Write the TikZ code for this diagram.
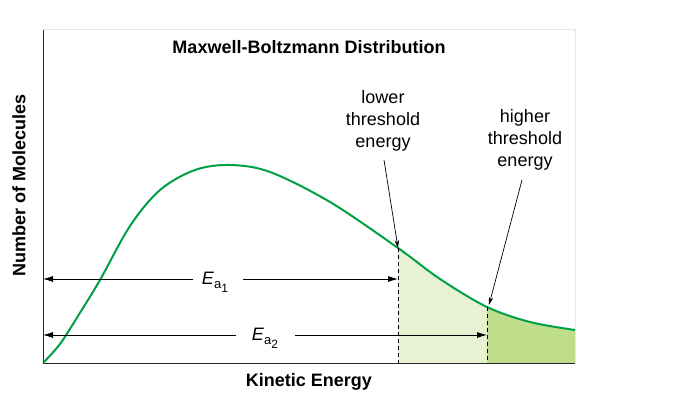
\documentclass[tikz,border=0pt]{standalone}
\usepackage{fontspec}
\setmainfont{Liberation Sans}
\usetikzlibrary{arrows.meta}
\definecolor{curvegreen}{RGB}{0,160,70}
\definecolor{lightfill}{RGB}{232,241,210}
\definecolor{darkfill}{RGB}{190,222,140}
\definecolor{framecol}{RGB}{225,230,245}
\tikzset{
 lbl/.style={font=\fontsize{18}{22}\selectfont, align=center},
 bold/.style={font=\fontsize{18}{20}\selectfont\bfseries},
 dimarrow/.style={-{Latex[length=10pt,width=6pt]}, line width=0.8pt},
 pointer/.style={-{Stealth[length=8pt,width=4.5pt]}, line width=0.7pt},
}
\newcommand{\Ea}[1]{\textit{E}\raisebox{-0.45ex}{\fontsize{13}{13}\selectfont a\raisebox{-0.5ex}{\fontsize{12}{12}\selectfont #1}}}
\begin{document}
\begin{tikzpicture}[x=1pt,y=-1pt]
\useasboundingbox (0,0) rectangle (678,420);
\def\curve{plot[smooth,tension=0.55] coordinates {(43,363) (60,344) (78,316) (100,280) (130,226) (160,190) (195,170) (230,165) (270,172) (330,202) (398,248) (440,279) (487,307) (530,322) (575,330)}}
\begin{scope}
\clip (398,0) rectangle (487,363);
\fill[lightfill] \curve -- (575,363) -- (43,363) -- cycle;
\end{scope}
\begin{scope}
\clip (487,0) rectangle (575,363);
\fill[darkfill] \curve -- (575,363) -- (43,363) -- cycle;
\end{scope}
\draw[framecol, line width=1pt] (43,30) -- (575,30) -- (575,363);
\draw[black!85, line width=1pt] (43,30) -- (43,363) -- (575,363);
\draw[curvegreen, line width=2pt] \curve;
\coordinate (c1) at (398,248);
\coordinate (c2) at (487,307);
\coordinate (b1) at (398,363);
\coordinate (b2) at (487,363);
\draw[dash pattern=on 4pt off 3pt, line width=0.8pt] (c1) -- (b1);
\draw[dash pattern=on 4pt off 3pt, line width=0.8pt] (c2) -- (b2);
\node[lbl] (e1) at (215,282) {\Ea{1}};
\node[lbl] (e2) at (265,338) {\Ea{2}};
\coordinate (l1) at (43,279); \coordinate (r1) at (398,279);
\coordinate (l2) at (43,335); \coordinate (r2) at (487,335);
\draw[dimarrow] (193,279) -- (l1);
\draw[dimarrow] (243,279) -- (r1);
\draw[dimarrow] (236,335) -- (l2);
\draw[dimarrow] (295,335) -- (r2);
\node[bold] (title) at (309,47) {Maxwell-Boltzmann Distribution};
\node[bold] (xl) at (309,382) {Kinetic Energy};
\node[bold, rotate=90] (yl) at (19,185) {Number of Molecules};
\node[lbl] (low) at (383,121) {lower\\threshold\\energy};
\node[lbl] (high) at (525,140) {higher\\threshold\\energy};
\draw[pointer] (384,160) -- (c1);
\draw[pointer] (522,180) -- (489,305);
\end{tikzpicture}
\end{document}
